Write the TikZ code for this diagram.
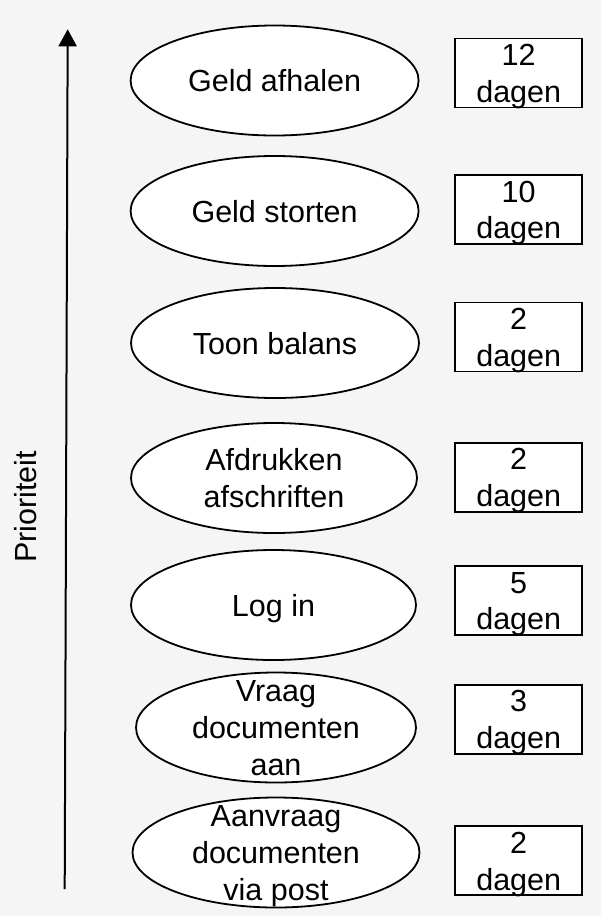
\documentclass[tikz,border=0pt]{standalone}
\usepackage{fontspec}
\setmainfont{Liberation Sans}
\usetikzlibrary{arrows.meta,shapes.geometric}
\definecolor{bgcol}{HTML}{F5F5F5}
\tikzset{
  usecase/.style={ellipse, draw=black, line width=1.8pt, fill=white, inner sep=0pt, minimum height=110pt},
  timebox/.style={rectangle, draw=black, line width=1.7pt, fill=white, inner sep=0pt, minimum width=127pt, minimum height=69pt},
  txt/.style={anchor=base, inner sep=0pt, font=\fontsize{30.5}{36.7}\selectfont},
  prio/.style={-{Triangle[length=17pt,width=18pt]}, line width=2pt}
}
% #1 name, #2 center x, #3 center y, lines via list
\newcommand{\linesat}[3]{%
  \foreach \ln [count=\k] in {#3} {\xdef\nlines{\k}}%
  \foreach \ln [count=\k] in {#3} {%
    \pgfmathsetmacro{\yy}{#2 + 11 + (\k - (\nlines+1)/2)*36.7}%
    \node[txt] (#1-\k) at (#1.center |- 0,\yy) {\ln};%
  }%
}
\begin{document}
\begin{tikzpicture}[x=1pt,y=-1pt]
\fill[bgcol] (0,0) rectangle (601,916);
\useasboundingbox (0,0) rectangle (601,916);

% priority arrow
\coordinate (abot) at (64.7,889);
\coordinate (atop) at (67.7,29.3);
\draw[prio] (abot) -- (atop);
\node[txt, rotate=90] (prio) at (36.5,506.7) {Prioriteit};

% use cases
\node[usecase, minimum width=288pt] (e1) at (274.6,80.5) {};
\node[usecase, minimum width=288pt] (e2) at (274.6,211) {};
\node[usecase, minimum width=288pt] (e3) at (275,343) {};
\node[usecase, minimum width=286pt] (e4) at (274,478) {};
\node[usecase, minimum width=285pt] (e5) at (273.5,605) {};
\node[usecase, minimum width=280pt] (e6) at (276,727.5) {};
\node[usecase, minimum width=287pt] (e7) at (276,852.5) {};

\linesat{e1}{80.5}{Geld afhalen}
\linesat{e2}{211}{Geld storten}
\linesat{e3}{343}{Toon balans}
\linesat{e4}{478}{Afdrukken,afschriften}
\linesat{e5}{605}{Log in}
\linesat{e6}{727.5}{Vraag,documenten,aan}
\linesat{e7}{852.5}{Aanvraag,documenten,via post}

% durations
\node[timebox] (b1) at (518.7,73) {};
\node[timebox] (b2) at (518.7,209.5) {};
\node[timebox] (b3) at (518.7,337) {};
\node[timebox] (b4) at (518.7,477.3) {};
\node[timebox] (b5) at (518.7,600.5) {};
\node[timebox] (b6) at (518.7,719.3) {};
\node[timebox] (b7) at (518.7,860.8) {};

\linesat{b1}{73}{12,dagen}
\linesat{b2}{209.5}{10,dagen}
\linesat{b3}{337}{2,dagen}
\linesat{b4}{477.3}{2,dagen}
\linesat{b5}{600.5}{5,dagen}
\linesat{b6}{719.3}{3,dagen}
\linesat{b7}{860.8}{2,dagen}
\end{tikzpicture}
\end{document}
